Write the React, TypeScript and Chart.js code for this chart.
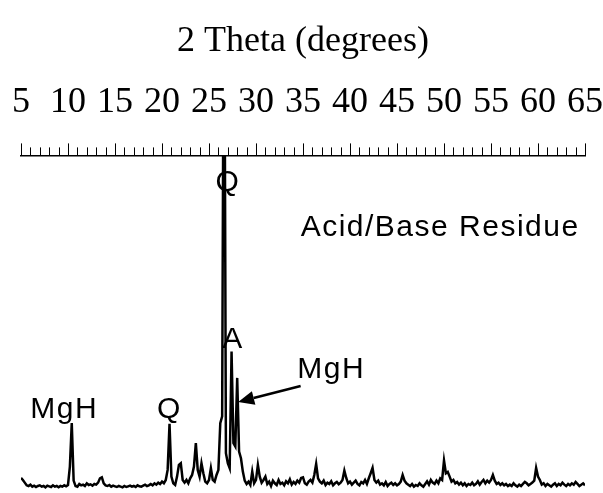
import { useEffect, useRef } from "react";
import { Chart, registerables } from "chart.js";

Chart.register(...registerables);

// Sampling grid of the diffractogram (2θ in degrees)
const thetaStart = 5;
const thetaStep = 0.2;

// Intensity (arbitrary counts), one value per 0.2° step from 5° to 65°
// (the main quartz peak at 26.6° runs off the top of the plot)
const intensity = [
  36, 30, 22, 14, 12, 16, 10, 13, 9, 12, // 5.0 - 6.8
  14, 10, 12, 8, 13, 11, 9, 14, 10, 12, // 7.0 - 8.8
  8, 12, 10, 14, 11, 15, 70, 200, 28, 12, // 9.0 - 10.8
  10, 18, 14, 16, 12, 20, 15, 17, 13, 18, // 11.0 - 12.8
  16, 22, 35, 38, 20, 14, 12, 15, 10, 13, // 13.0 - 14.8
  11, 9, 12, 10, 8, 12, 9, 11, 13, 10, // 15.0 - 16.8
  12, 9, 14, 11, 10, 13, 16, 12, 14, 18, // 17.0 - 18.8
  14, 20, 16, 22, 18, 25, 20, 30, 60, 198, // 19.0 - 20.8
  40, 20, 15, 40, 75, 80, 30, 22, 30, 20, // 21.0 - 22.8
  35, 45, 70, 140, 60, 40, 80, 50, 25, 20, // 23.0 - 24.8
  30, 65, 30, 25, 45, 60, 200, 220, 1800, 110, // 25.0 - 26.8
  80, 65, 414, 140, 130, 335, 115, 95, 55, 28, // 27.0 - 28.8
  18, 25, 15, 55, 20, 30, 75, 40, 22, 30, // 29.0 - 30.8
  40, 18, 25, 12, 28, 20, 15, 30, 18, 22, // 31.0 - 32.8
  14, 26, 20, 32, 16, 24, 18, 28, 22, 36, // 33.0 - 34.8
  38, 20, 16, 25, 30, 22, 45, 78, 35, 25, // 35.0 - 36.8
  20, 28, 15, 22, 18, 26, 14, 20, 24, 17, // 37.0 - 38.8
  22, 30, 58, 36, 20, 25, 16, 22, 28, 18, // 39.0 - 40.8
  14, 24, 20, 30, 18, 35, 50, 66, 30, 22, // 41.0 - 42.8
  28, 16, 20, 14, 24, 12, 18, 22, 15, 20, // 43.0 - 44.8
  14, 18, 25, 45, 28, 20, 16, 12, 18, 10, // 45.0 - 46.8
  15, 12, 20, 14, 10, 18, 26, 16, 30, 22, // 47.0 - 48.8
  18, 28, 20, 35, 30, 88, 50, 54, 40, 25, // 49.0 - 50.8
  30, 20, 24, 16, 22, 14, 20, 12, 18, 15, // 51.0 - 52.8
  22, 14, 18, 26, 16, 24, 30, 20, 28, 22, // 53.0 - 54.8
  30, 45, 28, 18, 22, 15, 20, 14, 18, 12, // 55.0 - 56.8
  16, 12, 20, 14, 10, 16, 12, 18, 24, 20, // 57.0 - 58.8
  14, 18, 22, 28, 66, 40, 30, 16, 20, 12, // 59.0 - 60.8
  18, 14, 10, 16, 20, 12, 18, 14, 22, 16, // 61.0 - 62.8
  12, 18, 14, 20, 16, 24, 18, 12, 16, 20, // 63.0 - 64.8
  14, // 65.0
];

// Axis
const axisTitle = "2 Theta (degrees)";
const thetaMin = 5;
const thetaMax = 65;
const majorStep = 5;
const minorStep = 1;
const intensityMax = 1000;

// Peak annotations (text, 2θ position, intensity position, alignment)
const noteTexts = ["Q", "Acid/Base Residue", "A", "MgH", "MgH", "Q"];
const noteTheta = [27.0, 34.75, 27.55, 38.0, 9.6, 20.8];
const noteLevel = [919, 784, 449, 359, 240, 240];
const noteAlign = ["center", "left", "center", "center", "center", "center"];

// Arrow pointing to the MgH peak near 28°
const arrowFromTheta = 34.75;
const arrowFromLevel = 311;
const arrowToTheta = 28.1;
const arrowToLevel = 263;

const MAJOR_TICK = 12;
const MINOR_TICK = 8;

const annotationPlugin = {
  id: "xrdAnnotations",
  afterDatasetsDraw(chart: any) {
    const { ctx, scales } = chart;
    const xs = scales.x;
    const ys = scales.y;
    ctx.save();
    ctx.fillStyle = "#000";
    ctx.strokeStyle = "#000";
    ctx.font = '30px "Liberation Sans", Arial, sans-serif';
    (ctx as any).letterSpacing = "1.5px";
    ctx.textBaseline = "middle";
    noteTexts.forEach((t, i) => {
      ctx.textAlign = noteAlign[i];
      ctx.fillText(t, xs.getPixelForValue(noteTheta[i]), ys.getPixelForValue(noteLevel[i]));
    });
    // arrow
    const x1 = xs.getPixelForValue(arrowFromTheta);
    const y1 = ys.getPixelForValue(arrowFromLevel);
    const x2 = xs.getPixelForValue(arrowToTheta);
    const y2 = ys.getPixelForValue(arrowToLevel);
    const ang = Math.atan2(y2 - y1, x2 - x1);
    const headLen = 16;
    const headHalf = 7;
    const bx = x2 - headLen * Math.cos(ang);
    const by = y2 - headLen * Math.sin(ang);
    ctx.lineWidth = 2.5;
    ctx.beginPath();
    ctx.moveTo(x1, y1);
    ctx.lineTo(bx, by);
    ctx.stroke();
    ctx.beginPath();
    ctx.moveTo(x2, y2);
    ctx.lineTo(bx + headHalf * Math.sin(ang), by - headHalf * Math.cos(ang));
    ctx.lineTo(bx - headHalf * Math.sin(ang), by + headHalf * Math.cos(ang));
    ctx.closePath();
    ctx.fill();
    ctx.restore();
  },
  afterDraw(chart: any) {
    // tick marks of the top axis: long at multiples of 5°, short every degree
    const { ctx } = chart;
    const xs = chart.scales.x;
    ctx.save();
    ctx.strokeStyle = "#000";
    ctx.lineWidth = 1;
    for (let v = xs.min; v <= xs.max; v += minorStep) {
      const len = v % majorStep === 0 ? MAJOR_TICK : MINOR_TICK;
      const px = Math.round(xs.getPixelForValue(v)) + 0.5;
      ctx.beginPath();
      ctx.moveTo(px, xs.bottom);
      ctx.lineTo(px, xs.bottom - len);
      ctx.stroke();
    }
    ctx.restore();
  },
};

export default function App() {
  const ref = useRef<HTMLCanvasElement>(null);
  useEffect(() => {
    document.body.style.margin = "0";
    const points = intensity.map((v, i) => ({ x: thetaStart + i * thetaStep, y: v }));
    const chart = new Chart(ref.current as HTMLCanvasElement, {
      type: "line",
      data: {
        datasets: [
          {
            data: points,
            borderColor: "#000",
            borderWidth: 2.5,
            pointRadius: 0,
            tension: 0,
            fill: false,
          },
        ],
      },
      options: {
        animation: false,
        responsive: false,
        maintainAspectRatio: false,
        layout: { padding: { left: 21, right: 16, top: 0, bottom: 3 } },
        plugins: { legend: { display: false }, tooltip: { enabled: false } },
        scales: {
          x: {
            type: "linear",
            position: "top",
            min: thetaMin,
            max: thetaMax,
            title: {
              display: true,
              text: axisTitle,
              color: "#000",
              font: { family: '"Liberation Serif", "Times New Roman", serif', size: 36 },
              padding: { top: 20, bottom: 18 },
            },
            ticks: {
              stepSize: majorStep,
              color: "#000",
              autoSkip: false,
              maxRotation: 0,
              padding: 0,
              font: { family: '"Liberation Serif", "Times New Roman", serif', size: 36 },
            },
            grid: {
              drawOnChartArea: false,
              drawTicks: true,
              tickLength: 31,
              tickColor: "rgba(0,0,0,0)",
              color: "#000",
              lineWidth: 1,
            },
            border: { display: true, color: "#000", width: 1.5 },
          },
          y: {
            display: false,
            min: 0,
            max: intensityMax,
          },
        },
      },
      plugins: [annotationPlugin],
    });
    return () => chart.destroy();
  }, []);
  return (
    <div style={{ width: 603, height: 493 }}>
      <canvas ref={ref} width={603} height={493} style={{ display: "block" }} />
    </div>
  );
}
